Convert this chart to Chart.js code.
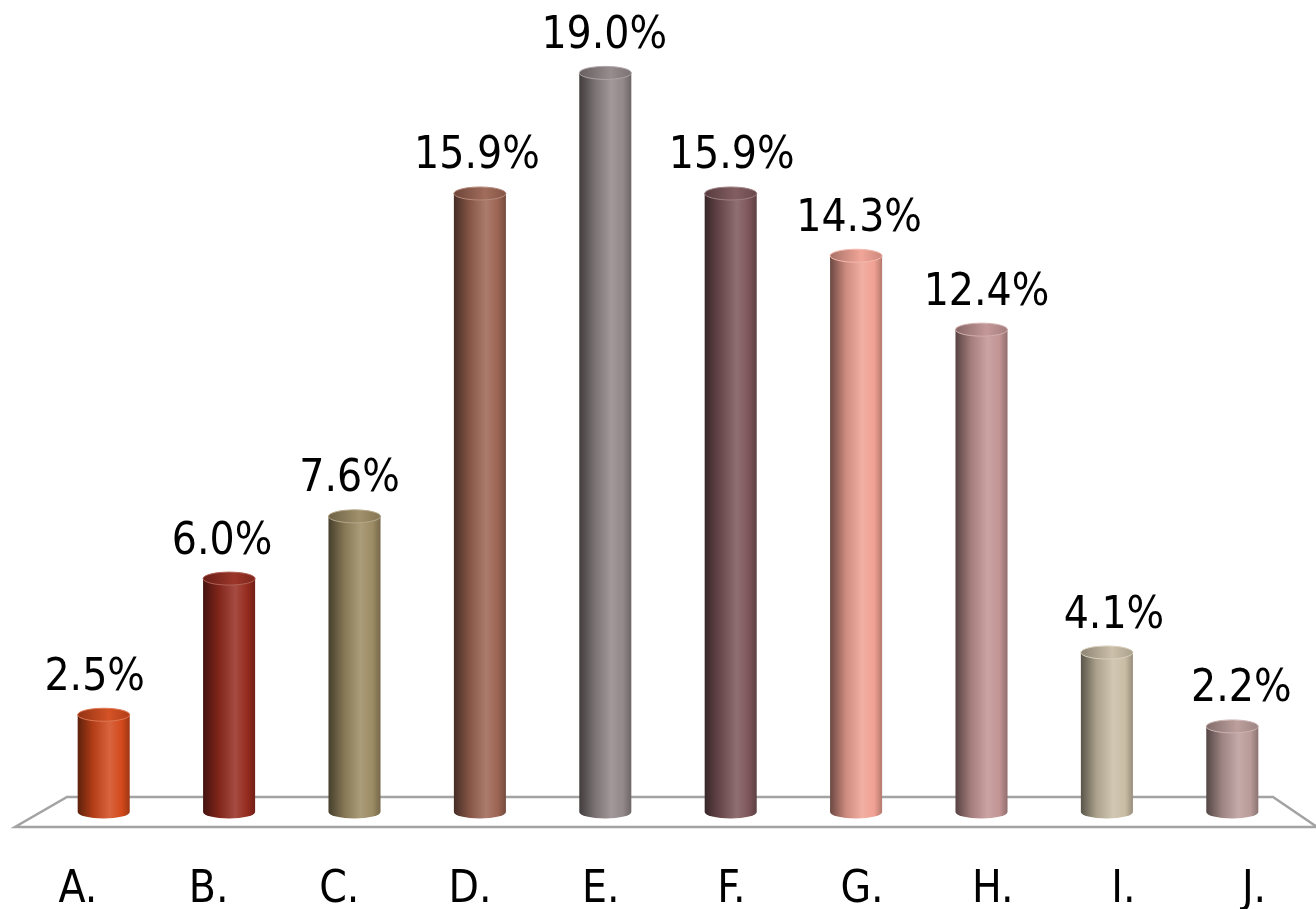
<!DOCTYPE html>
<html>
<head>
<meta charset="utf-8">
<script src="https://cdn.jsdelivr.net/npm/chart.js@4"></script>
<style>
  html, body { margin: 0; padding: 0; background: #fff; }
  #wrap { width: 1316px; height: 909px; }
</style>
</head>
<body>
<div id="wrap"><canvas id="cylChart"></canvas></div>
<script>
const categories = ['A.', 'B.', 'C.', 'D.', 'E.', 'F.', 'G.', 'H.', 'I.', 'J.'];
const shares = [2.5, 6.0, 7.6, 15.9, 19.0, 15.9, 14.3, 12.4, 4.1, 2.2];
const barColors = ['#d2491b', '#962b1f', '#9c8b63', '#9c6452', '#918688',
                   '#7c5559', '#f0a193', '#c29393', '#c9bda5', '#b99b99'];

const FONT = '"DejaVu Sans Condensed", "DejaVu Sans", sans-serif';

function shade(hex, amt) {
    const n = parseInt(hex.slice(1), 16);
    let r = n >> 16, g = (n >> 8) & 255, b = n & 255;
    const f = c => amt < 0 ? Math.round(c * (1 + amt)) : Math.round(c + (255 - c) * amt);
    return 'rgb(' + f(r) + ',' + f(g) + ',' + f(b) + ')';
}

// floor + cylinders + labels
const cylinderPlugin = {
    id: 'cylinders',
    beforeDatasetsDraw(chart) {
        const { ctx, chartArea: a } = chart;
        ctx.save();
        ctx.beginPath();
        ctx.moveTo(a.left + 26, a.bottom - 15);
        ctx.lineTo(a.right - 22, a.bottom - 15);
        ctx.lineTo(a.right + 22, a.bottom + 15);
        ctx.lineTo(a.left - 26, a.bottom + 15);
        ctx.closePath();
        ctx.fillStyle = '#ffffff';
        ctx.fill();
        ctx.strokeStyle = '#a3a3a3';
        ctx.lineWidth = 2.5;
        ctx.stroke();
        ctx.restore();
    },
    afterDatasetsDraw(chart) {
        const { ctx, chartArea: a } = chart;
        const meta = chart.getDatasetMeta(0);
        const mid = (a.left + a.right) / 2;
        ctx.save();
        meta.data.forEach((bar, i) => {
            const c = barColors[i];
            const cx = bar.x, top = bar.y, base = bar.base;
            const rx = bar.width / 2, ry = 6.5;
            const l = cx - rx, r = cx + rx;
            const g = ctx.createLinearGradient(l, 0, r, 0);
            g.addColorStop(0, shade(c, -0.55));
            g.addColorStop(0.3, shade(c, -0.15));
            g.addColorStop(0.62, shade(c, 0.15));
            g.addColorStop(0.85, c);
            g.addColorStop(1, shade(c, -0.25));
            ctx.beginPath();
            ctx.moveTo(l, top);
            ctx.lineTo(l, base);
            ctx.ellipse(cx, base, rx, ry, 0, Math.PI, 0, true);
            ctx.lineTo(r, top);
            ctx.closePath();
            ctx.fillStyle = g;
            ctx.fill();

            const tg = ctx.createLinearGradient(l, 0, r, 0);
            tg.addColorStop(0, shade(c, -0.3));
            tg.addColorStop(0.6, shade(c, 0.05));
            tg.addColorStop(1, shade(c, -0.15));
            ctx.beginPath();
            ctx.ellipse(cx, top, rx, ry, 0, 0, Math.PI * 2);
            ctx.fillStyle = tg;
            ctx.fill();
            ctx.strokeStyle = shade(c, 0.25);
            ctx.lineWidth = 1;
            ctx.stroke();

            ctx.fillStyle = '#000';
            ctx.font = '44px ' + FONT;
            ctx.textAlign = 'center';
            ctx.textBaseline = 'alphabetic';
            ctx.fillText(shares[i].toFixed(1) + '%', mid + (cx - mid) * 1.016, top - 25);
            ctx.fillText(categories[i], mid + (cx - mid) * 1.042 - 2, base + 90);
        });
        ctx.restore();
    }
};

new Chart(document.getElementById('cylChart'), {
    type: 'bar',
    data: {
        labels: categories,
        datasets: [{
            data: shares,
            backgroundColor: 'rgba(0,0,0,0)',
            borderWidth: 0,
            categoryPercentage: 1.0,
            barPercentage: 0.415
        }]
    },
    options: {
        responsive: true,
        maintainAspectRatio: false,
        animation: false,
        layout: { padding: { left: 41, right: 21, top: 34, bottom: 97 } },
        plugins: { legend: { display: false }, tooltip: { enabled: false } },
        scales: {
            x: { display: false },
            y: { display: false, min: 0, max: 20 }
        }
    },
    plugins: [cylinderPlugin]
});
</script>
</body>
</html>
